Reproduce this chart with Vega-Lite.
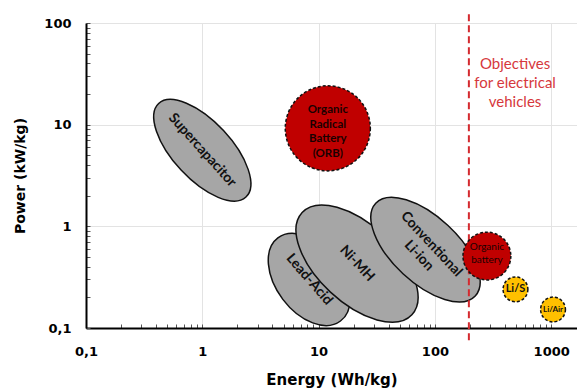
{
  "$schema": "https://vega.github.io/schema/vega-lite/v6.json",
  "width": 491,
  "height": 305,
  "autosize": {"type": "none"},
  "padding": {"left": 86, "top": 23, "right": 0, "bottom": 60},
  "background": "white",
  "config": {
    "view": {"stroke": null},
    "axis": {
      "domainColor": "#000000",
      "domainWidth": 2,
      "tickColor": "#555555",
      "tickSize": -4,
      "tickWidth": 1,
      "gridColor": "#e3e3e3",
      "gridWidth": 1,
      "labelFont": "DejaVu Sans",
      "labelFontWeight": "bold",
      "labelFontSize": 13,
      "labelColor": "#000000",
      "titleFont": "DejaVu Sans",
      "titleFontWeight": "bold",
      "titleColor": "#000000",
      "labelOverlap": false,
      "labelFlush": false
    }
  },
  "datasets": {
    "techs": [
      {"name": "Supercapacitor", "energy": 1.0, "power": 5.6, "label": "Supercapacitor"},
      {"name": "Lead-Acid", "energy": 8.3, "power": 0.30, "label": "Lead-Acid"},
      {"name": "Ni-MH", "energy": 21.4, "power": 0.43, "label": "Ni-MH"},
      {"name": "Conventional Li-ion", "energy": 83, "power": 0.59, "label": "Conventional\nLi-ion"},
      {"name": "ORB", "energy": 12, "power": 9.2, "label": "Organic\nRadical\nBattery\n(ORB)"},
      {"name": "Organic battery", "energy": 280, "power": 0.51, "label": "Organic\nbattery"},
      {"name": "Li/S", "energy": 493, "power": 0.24, "label": "Li/S"},
      {"name": "Li/Air", "energy": 1037, "power": 0.152, "label": "Li/Air"}
    ],
    "objective": [
      {"energy": 196, "power": 0.0757, "powerTop": 127, "textEnergy": 489, "textPower": 39.8, "label": "Objectives\nfor electrical\nvehicles"}
    ]
  },
  "data": {"name": "techs"},
  "layer": [
    {
      "transform": [{"filter": "datum.name == 'Supercapacitor'"}],
      "encoding": {
        "x": {
          "field": "energy", "type": "quantitative",
          "scale": {"type": "log", "domain": [0.1, 1667], "nice": false},
          "axis": {
            "title": "Energy (Wh/kg)",
            "titleFontSize": 15,
            "titlePadding": 14,
            "labelPadding": 21,
            "values": [0.1,0.2,0.3,0.4,0.5,0.6,0.7,0.8,0.9,1,2,3,4,5,6,7,8,9,10,20,30,40,50,60,70,80,90,100,200,300,400,500,600,700,800,900,1000],
            "labelExpr": "abs(log(datum.value)/LN10 - round(log(datum.value)/LN10)) < 0.000001 ? replace(format(datum.value, '~g'), '.', ',') : ''",
            "gridOpacity": {"condition": {"test": "abs(log(datum.value)/LN10 - round(log(datum.value)/LN10)) < 0.000001", "value": 1}, "value": 0}
          }
        },
        "y": {
          "field": "power", "type": "quantitative",
          "scale": {"type": "log", "domain": [0.1, 100], "nice": false},
          "axis": {
            "title": "Power (kW/kg)",
            "titleFontSize": 14,
            "titlePadding": 16,
            "labelPadding": 19,
            "values": [0.1,0.2,0.3,0.4,0.5,0.6,0.7,0.8,0.9,1,2,3,4,5,6,7,8,9,10,20,30,40,50,60,70,80,90,100],
            "labelExpr": "abs(log(datum.value)/LN10 - round(log(datum.value)/LN10)) < 0.000001 ? replace(format(datum.value, '~g'), '.', ',') : ''",
            "gridOpacity": {"condition": {"test": "abs(log(datum.value)/LN10 - round(log(datum.value)/LN10)) < 0.000001", "value": 1}, "value": 0}
          }
        }
      },
      "layer": [
        {"mark": {"type": "point", "shape": "M -64 0 C -64 -16.02 -35.35 -29 0 -29 C 35.35 -29 64 -16.02 64 0 C 64 16.02 35.35 29 0 29 C -35.35 29 -64 16.02 -64 0 Z", "size": 4, "angle": 47, "filled": true, "fill": "#a6a6a6", "stroke": "#111111", "strokeWidth": 1.5, "opacity": 1}},
        {"mark": {"type": "text", "angle": 48, "font": "Lato", "fontWeight": "bold", "fontSize": 14, "color": "#111111", "baseline": "middle", "align": "center", "lineBreak": "\n"}, "encoding": {"text": {"field": "label"}}}
      ]
    },
    {
      "transform": [{"filter": "datum.name == 'Lead-Acid'"}],
      "encoding": {"x": {"field": "energy", "type": "quantitative"}, "y": {"field": "power", "type": "quantitative"}},
      "layer": [
        {"mark": {"type": "point", "shape": "M -52 0 C -52 -18.23 -28.72 -33 0 -33 C 28.72 -33 52 -18.23 52 0 C 52 18.23 28.72 33 0 33 C -28.72 33 -52 18.23 -52 0 Z", "size": 4, "angle": 53, "filled": true, "fill": "#a6a6a6", "stroke": "#111111", "strokeWidth": 1.5, "opacity": 1}},
        {"mark": {"type": "text", "angle": 49, "font": "Lato", "fontWeight": "bold", "fontSize": 14, "color": "#111111", "baseline": "middle", "align": "center", "lineBreak": "\n"}, "encoding": {"text": {"field": "label"}}}
      ]
    },
    {
      "transform": [{"filter": "datum.name == 'Ni-MH'"}],
      "encoding": {"x": {"field": "energy", "type": "quantitative"}, "y": {"field": "power", "type": "quantitative"}},
      "layer": [
        {"mark": {"type": "point", "shape": "M -75 0 C -75 -21.54 -41.42 -39 0 -39 C 41.42 -39 75 -21.54 75 0 C 75 21.54 41.42 39 0 39 C -41.42 39 -75 21.54 -75 0 Z", "size": 4, "angle": 43, "filled": true, "fill": "#a6a6a6", "stroke": "#111111", "strokeWidth": 1.5, "opacity": 1}},
        {"mark": {"type": "text", "angle": 47, "font": "Lato", "fontWeight": "bold", "fontSize": 14, "color": "#111111", "baseline": "middle", "align": "center", "lineBreak": "\n"}, "encoding": {"text": {"field": "label"}}}
      ]
    },
    {
      "transform": [{"filter": "datum.name == 'Conventional Li-ion'"}],
      "encoding": {"x": {"field": "energy", "type": "quantitative"}, "y": {"field": "power", "type": "quantitative"}},
      "layer": [
        {"mark": {"type": "point", "shape": "M -68 0 C -68 -18.23 -37.56 -33 0 -33 C 37.56 -33 68 -18.23 68 0 C 68 18.23 37.56 33 0 33 C -37.56 33 -68 18.23 -68 0 Z", "size": 4, "angle": 43, "filled": true, "fill": "#a6a6a6", "stroke": "#111111", "strokeWidth": 1.5, "opacity": 1}},
        {"mark": {"type": "text", "angle": 47, "font": "Lato", "fontWeight": "bold", "fontSize": 14, "color": "#111111", "baseline": "middle", "align": "center", "lineBreak": "\n", "lineHeight": 17, "dy": -8}, "encoding": {"text": {"field": "label"}}}
      ]
    },
    {
      "data": {"name": "objective"},
      "mark": {"type": "rule", "color": "#d42a2f", "strokeWidth": 2, "strokeDash": [7, 4]},
      "encoding": {
        "x": {"field": "energy", "type": "quantitative"},
        "y": {"field": "power", "type": "quantitative"},
        "y2": {"field": "powerTop"}
      }
    },
    {
      "data": {"name": "objective"},
      "mark": {"type": "text", "color": "#d6383c", "font": "Lato", "fontSize": 15, "lineHeight": 19, "baseline": "middle", "align": "center", "lineBreak": "\n"},
      "encoding": {
        "x": {"field": "textEnergy", "type": "quantitative"},
        "y": {"field": "textPower", "type": "quantitative"},
        "text": {"field": "label"}
      }
    },
    {
      "transform": [{"filter": "datum.name == 'ORB'"}],
      "encoding": {"x": {"field": "energy", "type": "quantitative"}, "y": {"field": "power", "type": "quantitative"}},
      "layer": [
        {"mark": {"type": "point", "shape": "circle", "size": 7238, "filled": true, "fill": "#c00000", "stroke": "#111111", "strokeWidth": 1.5, "strokeDash": [3, 2], "opacity": 1}},
        {"mark": {"type": "text", "font": "Lato", "fontWeight": "bold", "fontSize": 11.5, "lineHeight": 14.5, "color": "#1a0000", "baseline": "middle", "align": "center", "lineBreak": "\n", "dy": -18}, "encoding": {"text": {"field": "label"}}}
      ]
    },
    {
      "transform": [{"filter": "datum.name == 'Organic battery'"}],
      "encoding": {"x": {"field": "energy", "type": "quantitative"}, "y": {"field": "power", "type": "quantitative"}},
      "layer": [
        {"mark": {"type": "point", "shape": "circle", "size": 2290, "filled": true, "fill": "#c00000", "stroke": "#111111", "strokeWidth": 1.5, "strokeDash": [3, 2], "opacity": 1}},
        {"mark": {"type": "text", "font": "Lato", "fontSize": 10, "lineHeight": 13, "color": "#1a0000", "baseline": "middle", "align": "center", "lineBreak": "\n", "dy": -9.5}, "encoding": {"text": {"field": "label"}}}
      ]
    },
    {
      "transform": [{"filter": "datum.name == 'Li/S'"}],
      "encoding": {"x": {"field": "energy", "type": "quantitative"}, "y": {"field": "power", "type": "quantitative"}},
      "layer": [
        {"mark": {"type": "point", "shape": "circle", "size": 616, "filled": true, "fill": "#ffc000", "stroke": "#111111", "strokeWidth": 1.5, "strokeDash": [3, 2], "opacity": 1}},
        {"mark": {"type": "text", "font": "Lato", "fontWeight": "bold", "fontSize": 11, "color": "#111111", "baseline": "middle", "align": "center"}, "encoding": {"text": {"field": "label"}}}
      ]
    },
    {
      "transform": [{"filter": "datum.name == 'Li/Air'"}],
      "encoding": {"x": {"field": "energy", "type": "quantitative"}, "y": {"field": "power", "type": "quantitative"}},
      "layer": [
        {"mark": {"type": "point", "shape": "circle", "size": 616, "filled": true, "fill": "#ffc000", "stroke": "#111111", "strokeWidth": 1.5, "strokeDash": [3, 2], "opacity": 1}},
        {"mark": {"type": "text", "font": "Lato", "fontWeight": "bold", "fontSize": 8, "color": "#111111", "baseline": "middle", "align": "center"}, "encoding": {"text": {"field": "label"}}}
      ]
    }
  ]
}
